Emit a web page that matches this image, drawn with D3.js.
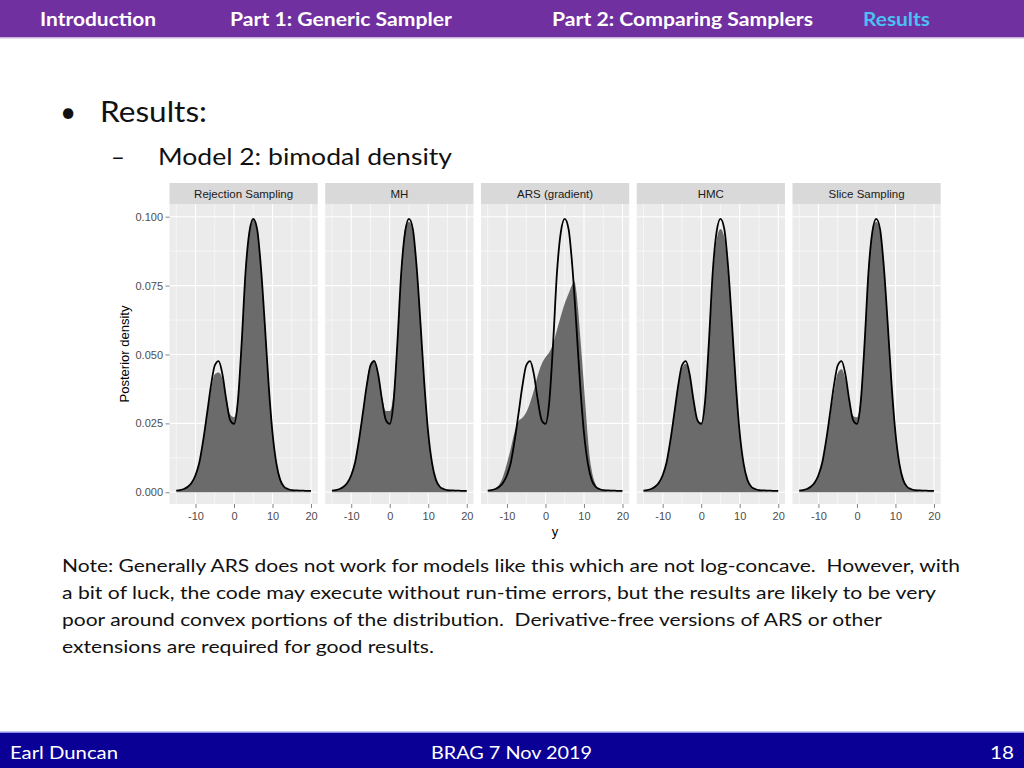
<!DOCTYPE html>
<html><head><meta charset="utf-8">
<script src="https://cdn.jsdelivr.net/npm/d3@7"></script>
<style>body{margin:0;background:#fff} svg{display:block} text{white-space:pre}</style>
</head><body><svg id="c" width="1024" height="768"></svg>
<script>
// ---------- data ----------
const panels = ["Rejection Sampling", "MH", "ARS (gradient)", "HMC", "Slice Sampling"];
const xGrid = [-15,-14,-13,-12,-11,-10,-9,-8,-7,-6,-5,-4,-3,-2,-1,0,1,2,3,4,5,6,7,8,9,10,11,12,13,14,15,16,17,18,19,20];
const trueDensity = [0.0006,0.0008,0.0012,0.0020,0.0035,0.0062,0.0108,0.0188,0.0285,0.0385,0.0460,0.0476,0.0428,0.0335,0.0262,0.0248,0.0330,0.0545,0.0800,0.0945,0.0992,0.0955,0.0815,0.0610,0.0390,0.0215,0.0105,0.0045,0.0020,0.0012,0.0008,0.0007,0.0006,0.0006,0.0005,0.0005];
const rejectionSamples = [0.0003,0.0006,0.0011,0.0020,0.0036,0.0064,0.0110,0.0190,0.0280,0.0370,0.0428,0.0435,0.0412,0.0340,0.0282,0.0272,0.0340,0.0548,0.0800,0.0948,0.0990,0.0948,0.0808,0.0608,0.0392,0.0218,0.0106,0.0046,0.0020,0.0011,0.0006,0.0004,0.0003,0.0002,0.0002,0.0001];
const mhSamples = [0.0003,0.0006,0.0011,0.0020,0.0034,0.0062,0.0110,0.0192,0.0292,0.0395,0.0468,0.0480,0.0428,0.0345,0.0295,0.0295,0.0360,0.0560,0.0810,0.0958,0.0982,0.0945,0.0805,0.0605,0.0388,0.0212,0.0104,0.0045,0.0020,0.0011,0.0006,0.0004,0.0003,0.0002,0.0002,0.0001];
const hmcSamples = [0.0003,0.0006,0.0011,0.0020,0.0035,0.0062,0.0108,0.0188,0.0283,0.0378,0.0450,0.0466,0.0428,0.0335,0.0262,0.0252,0.0328,0.0535,0.0775,0.0915,0.0955,0.0925,0.0795,0.0605,0.0390,0.0215,0.0105,0.0045,0.0020,0.0011,0.0006,0.0004,0.0003,0.0002,0.0002,0.0001];
const sliceSamples = [0.0003,0.0006,0.0011,0.0020,0.0035,0.0062,0.0106,0.0182,0.0272,0.0362,0.0432,0.0446,0.0410,0.0335,0.0278,0.0272,0.0342,0.0548,0.0795,0.0945,0.0982,0.0945,0.0808,0.0608,0.0390,0.0215,0.0105,0.0045,0.0020,0.0011,0.0006,0.0004,0.0003,0.0002,0.0002,0.0001];
const arsX = [-15,-14,-13,-12,-11,-10,-9,-8,-7,-6,-5,-4,-3,-2,-1,0,1,2,3,4,5,6,7,7.5,8,8.5,9,9.5,10,10.5,11,11.5,12,13,14,15,16,17,18,19,20];
const arsSamples = [0.0003,0.0006,0.0013,0.0028,0.0058,0.0105,0.0160,0.0220,0.0258,0.0270,0.0290,0.0325,0.0370,0.0425,0.0465,0.0490,0.0508,0.0540,0.0590,0.0640,0.0685,0.0720,0.0755,0.0765,0.0730,0.0660,0.0570,0.0480,0.0385,0.0290,0.0200,0.0125,0.0080,0.0030,0.0012,0.0006,0.0004,0.0003,0.0002,0.0002,0.0001];
const xTicks = [-10, 0, 10, 20];
const xTickLabels = ["-10", "0", "10", "20"];
const xMinor = [-15, -5, 5, 15];
const yTicks = [0, 0.025, 0.05, 0.075, 0.1];
const yMinor = [0.0125, 0.0375, 0.0625, 0.0875];
const yTickLabels = ["0.000", "0.025", "0.050", "0.075", "0.100"];
const navLabels = ["Introduction", "Part 1: Generic Sampler", "Part 2: Comparing Samplers", "Results"];
const noteLines = [
  "Note: Generally ARS does not work for models like this which are not log-concave.  However, with",
  "a bit of luck, the code may execute without run-time errors, but the results are likely to be very",
  "poor around convex portions of the distribution.  Derivative-free versions of ARS or other",
  "extensions are required for good results."
];
const footerLabels = ["Earl Duncan", "BRAG 7 Nov 2019", "18"];

const sampleSeries = {
  "Rejection Sampling": {xs: xGrid, ys: rejectionSamples},
  "MH": {xs: xGrid, ys: mhSamples},
  "ARS (gradient)": {xs: arsX, ys: arsSamples},
  "HMC": {xs: xGrid, ys: hmcSamples},
  "Slice Sampling": {xs: xGrid, ys: sliceSamples}
};

// ---------- slide chrome ----------
const svg = d3.select("#c");
const bodyFont = "Lato, 'Open Sans', sans-serif";
const chartFont = "'Liberation Sans', Arial, sans-serif";

svg.append("rect").attr("x",0).attr("y",0).attr("width",1024).attr("height",37).attr("fill","#7030A0");
svg.append("rect").attr("x",0).attr("y",37).attr("width",1024).attr("height",1.5).attr("fill","#C9B3DD");
const navPos = [{x:40,w:116},{x:230,w:222},{x:552,w:261},{x:863,w:67}];
svg.selectAll("text.nav").data(navLabels).join("text").attr("class","nav")
  .attr("x",(d,i)=>navPos[i].x).attr("y",26)
  .attr("textLength",(d,i)=>navPos[i].w).attr("lengthAdjust","spacingAndGlyphs")
  .attr("font-family",bodyFont).attr("font-weight","bold").attr("font-size",18)
  .attr("fill",(d,i)=> i===3 ? "#4BC0F2" : "#ffffff").text(d=>d);

svg.append("text").attr("x",60).attr("y",122).attr("font-family",bodyFont).attr("font-size",28).attr("fill","#111").text("•");
svg.append("text").attr("x",100).attr("y",122).attr("textLength",107).attr("lengthAdjust","spacingAndGlyphs")
  .attr("font-family",bodyFont).attr("font-size",28).attr("fill","#111").text("Results:");
svg.append("text").attr("x",111).attr("y",165).attr("font-family",bodyFont).attr("font-size",24).attr("fill","#111").text("–");
svg.append("text").attr("x",158).attr("y",165).attr("textLength",294).attr("lengthAdjust","spacingAndGlyphs")
  .attr("font-family",bodyFont).attr("font-size",24).attr("fill","#111").text("Model 2: bimodal density");

const noteW = [898, 874, 820, 372];
svg.selectAll("text.note").data(noteLines).join("text").attr("class","note")
  .attr("x",62).attr("y",(d,i)=>572+i*27)
  .attr("textLength",(d,i)=>noteW[i]).attr("lengthAdjust","spacingAndGlyphs")
  .attr("font-family",bodyFont).attr("font-size",18).attr("fill","#111").text(d=>d);

svg.append("rect").attr("x",0).attr("y",732).attr("width",1024).attr("height",36).attr("fill","#0A0096");
svg.append("rect").attr("x",0).attr("y",731.5).attr("width",1024).attr("height",1.5).attr("fill","#8C8CE6");
const footPos = [{x:10,w:108,a:"start"},{x:511.5,w:161,a:"middle"},{x:1014,w:24,a:"end"}];
svg.selectAll("text.foot").data(footerLabels).join("text").attr("class","foot")
  .attr("x",(d,i)=>footPos[i].x).attr("y",759).attr("text-anchor",(d,i)=>footPos[i].a)
  .attr("textLength",(d,i)=>footPos[i].w).attr("lengthAdjust","spacingAndGlyphs")
  .attr("font-family",bodyFont).attr("font-size",18).attr("fill","#ffffff").text(d=>d);

// ---------- chart ----------
const panelTop = 204, panelBottom = 504, stripTop = 183;
const band = d3.scaleBand().domain(panels).range([169.5, 940.7]).paddingInner(0.048).paddingOuter(0);
const bw = band.bandwidth();
const x = d3.scaleLinear().domain([-16.75, 21.75]).range([0, bw]);
const y = d3.scaleLinear().domain([-0.00425, 0.1046]).range([panelBottom, panelTop]);

const area = d3.area().x(d=>x(d[0])).y0(y(0)).y1(d=>y(d[1])).curve(d3.curveMonotoneX);
const line = d3.line().x(d=>x(d[0])).y(d=>y(d[1])).curve(d3.curveMonotoneX);
const truePts = xGrid.map((v,i)=>[v, trueDensity[i]]);

panels.forEach(name => {
  const g = svg.append("g").attr("transform", `translate(${band(name)},0)`);
  g.append("rect").attr("x",0).attr("y",panelTop).attr("width",bw).attr("height",panelBottom-panelTop).attr("fill","#EBEBEB");
  g.selectAll("line.xminor").data(xMinor).join("line")
    .attr("x1",d=>x(d)).attr("x2",d=>x(d)).attr("y1",panelTop).attr("y2",panelBottom)
    .attr("stroke","#fff").attr("stroke-width",0.55);
  g.selectAll("line.yminor").data(yMinor).join("line")
    .attr("x1",0).attr("x2",bw).attr("y1",d=>y(d)).attr("y2",d=>y(d))
    .attr("stroke","#fff").attr("stroke-width",0.55);
  g.selectAll("line.xmajor").data(xTicks).join("line")
    .attr("x1",d=>x(d)).attr("x2",d=>x(d)).attr("y1",panelTop).attr("y2",panelBottom)
    .attr("stroke","#fff").attr("stroke-width",1.1);
  g.selectAll("line.ymajor").data(yTicks).join("line")
    .attr("x1",0).attr("x2",bw).attr("y1",d=>y(d)).attr("y2",d=>y(d))
    .attr("stroke","#fff").attr("stroke-width",1.1);

  const s = sampleSeries[name];
  g.append("path").datum(s.xs.map((v,i)=>[v, s.ys[i]])).attr("d",area).attr("fill","#6B6B6B");
  g.append("path").datum(truePts).attr("d",line).attr("fill","none").attr("stroke","#000")
    .attr("stroke-width",1.8).attr("stroke-linejoin","round");

  g.append("rect").attr("x",0).attr("y",stripTop).attr("width",bw).attr("height",panelTop-stripTop).attr("fill","#D9D9D9");
  g.append("text").attr("x",bw/2).attr("y",198).attr("text-anchor","middle")
    .attr("font-family",chartFont).attr("font-size",11.5).attr("fill","#1A1A1A").text(name);

  const ax = g.append("g").attr("transform",`translate(0,${panelBottom})`)
    .call(d3.axisBottom(x).tickValues(xTicks).tickFormat((d,i)=>xTickLabels[i]).tickSize(4).tickPadding(4.5));
  ax.select(".domain").remove();
  ax.selectAll(".tick line").attr("stroke","#333").attr("stroke-width",0.6);
  ax.selectAll(".tick text").attr("font-family",chartFont).attr("font-size",11).style("fill","#4D4D4D");
});

const ay = svg.append("g").attr("transform",`translate(${band(panels[0])},0)`)
  .call(d3.axisLeft(y).tickValues(yTicks).tickFormat((d,i)=>yTickLabels[i]).tickSize(4).tickPadding(2.5));
ay.select(".domain").remove();
ay.selectAll(".tick line").attr("stroke","#333").attr("stroke-width",0.6);
ay.selectAll(".tick text").attr("font-family",chartFont).attr("font-size",11).style("fill","#4D4D4D");

svg.append("text").attr("transform",`translate(129,${(panelTop+panelBottom)/2}) rotate(-90)`)
  .attr("text-anchor","middle").attr("font-family",chartFont).attr("font-size",13).attr("fill","#000").text("Posterior density");
svg.append("text").attr("x",(band(panels[0])+band(panels[4])+bw)/2).attr("y",536).attr("text-anchor","middle")
  .attr("font-family",chartFont).attr("font-size",13).attr("fill","#000").text("y");
</script></body></html>
